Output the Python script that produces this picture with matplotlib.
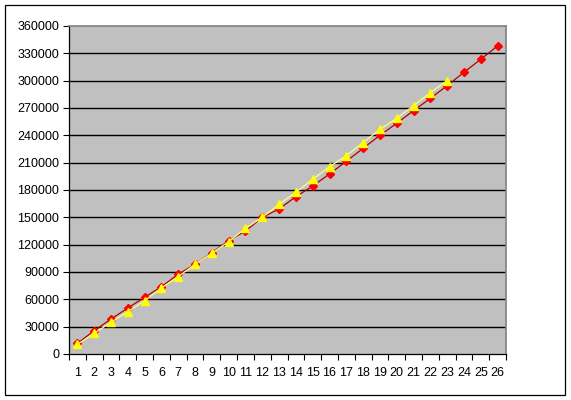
import matplotlib

matplotlib.use("Agg")
import matplotlib.pyplot as plt
from matplotlib.patches import Rectangle

# Values.
CATEGORIES = list(range(1, 27))
RED_SERIES = [11700, 25600, 38400, 50500, 62200, 73900, 87500, 98500, 111200,
              124400, 135000, 150000, 159200, 172700, 184400, 197600, 211500,
              225800, 240000, 253200, 267100, 280600, 294500, 309200, 323500,
              338100]
YELLOW_SERIES = [10600, 22700, 34800, 46500, 58500, 72500, 84900, 98500,
                 110600, 123300, 138000, 150000, 164300, 177500, 191700, 205600,
                 217700, 232000, 246600, 258700, 272600, 286900, 300000]
Y_TICKS = list(range(0, 360001, 30000))

W, H = 571, 400
plt.rcParams["font.family"] = ["Liberation Sans", "DejaVu Sans"]

fig = plt.figure(figsize=(W / 100, H / 100), dpi=100, facecolor="white")
ax = fig.add_axes([69 / W, 1 - 354 / H, (506 - 69) / W, (354 - 26) / H])
ax.set_facecolor("#C0C0C0")

# Excel-style black gridlines.
for v in Y_TICKS[1:-1]:
    ax.axhline(v, color="black", lw=1.0, zorder=1)

ax.plot(CATEGORIES, RED_SERIES, color="#B00000", lw=0.9, marker="D",
        markersize=4.2, markerfacecolor="#FF0000", markeredgecolor="#FF0000",
        zorder=3)
ax.plot(CATEGORIES[:len(YELLOW_SERIES)], YELLOW_SERIES, color="#FFFF80",
        lw=0.9, marker="^", markersize=5.5, markerfacecolor="#FFFF00",
        markeredgecolor="#FFFF00", zorder=4)

ax.set_xlim(0.5, 26.5)
ax.set_ylim(0, 360000)
ax.set_yticks(Y_TICKS)
ax.set_yticklabels([str(v) for v in Y_TICKS])
ax.set_xticks(CATEGORIES)
ax.set_xticklabels([str(c) for c in CATEGORIES])
ax.set_xticks([c - 0.5 for c in CATEGORIES] + [26.5], minor=True)
ax.tick_params(axis="x", which="major", length=0, pad=9, labelsize=9)
ax.tick_params(axis="x", which="minor", length=4, width=0.8, direction="out")
ax.tick_params(axis="y", length=4, width=0.8, pad=3, labelsize=9)

for side in ("left", "bottom"):
    ax.spines[side].set_color("black")
    ax.spines[side].set_linewidth(0.9)
for side in ("top", "right"):
    ax.spines[side].set_color("#808080")
    ax.spines[side].set_linewidth(1.2)

# Outer chart border.
fig.patches.append(Rectangle((5 / W, 1 - 395 / H), 560 / W, 390 / H,
                             transform=fig.transFigure, fill=False,
                             edgecolor="black", lw=0.9))

fig.savefig("out.png", dpi=100, facecolor="white")
